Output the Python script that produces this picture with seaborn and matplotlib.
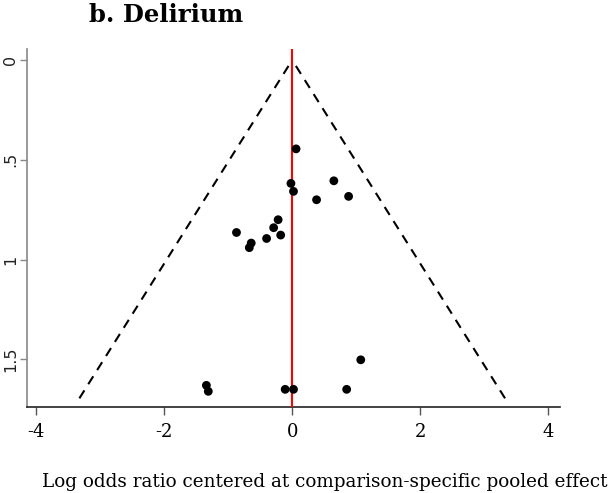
import numpy as np
import pandas as pd
import matplotlib
matplotlib.use("Agg")
import matplotlib.pyplot as plt
import seaborn as sns

# Funnel plot data (log odds ratio centered at pooled effect vs. standard error)
effect = [0.06, -0.02, 0.02, 0.65, 0.38, 0.88, -0.22, -0.29, -0.18, -0.40,
          -0.87, -0.64, -0.67, 1.07, -1.34, -1.31, -0.11, 0.02, 0.85]
std_err = [0.445, 0.618, 0.658, 0.605, 0.700, 0.683, 0.800, 0.840, 0.877, 0.894,
           0.864, 0.917, 0.940, 1.502, 1.630, 1.660, 1.650, 1.650, 1.650]
se_max = 1.695          # bottom of pseudo 95% confidence limits
x_ticks = [-4, -2, 0, 2, 4]
y_ticks = [0, 0.5, 1, 1.5]
y_tick_labels = ["0", ".5", "1", "1.5"]

df = pd.DataFrame({"effect": effect, "se": std_err})

sns.set_style("white", rc={"text.color": "black", "xtick.color": "black",
                           "ytick.color": "black"})
fig = plt.figure(figsize=(6.10, 4.93), dpi=100)
ax = fig.add_axes([27 / 610, 1 - 407.3 / 493, (560 - 27) / 610, (407.3 - 49.3) / 493])

# pseudo 95% CI funnel, each leg drawn from its bottom end up to the apex
for sign in (-1, 1):
    ax.plot([sign * 1.96 * se_max, 0], [se_max, 0],
            color="black", linestyle=(0, (4.5, 3.5)), linewidth=1.5, zorder=2)
ax.axvline(0, color="#ff0000", linewidth=1.5, zorder=3)

sns.scatterplot(data=df, x="effect", y="se", ax=ax, color="black", s=40,
                edgecolor="none", zorder=4, legend=False)

ax.set_xlim(-4.14, 4.18)
ax.set_ylim(1.74, -0.054)

ax.set_xticks(x_ticks)
ax.set_xticklabels([str(t) for t in x_ticks])
ax.set_yticks(y_ticks)
ax.set_yticklabels(y_tick_labels)

ax.tick_params(axis="x", bottom=True, direction="out", length=6, width=1, color="#555555",
               pad=5, labelsize=13, labelfontfamily="DejaVu Serif", labelcolor="black")
ax.tick_params(axis="y", left=True, direction="out", length=5, width=1, color="#888888",
               pad=1.5, labelsize=11.5, labelfontfamily="DejaVu Sans", labelcolor="#222222",
               labelrotation=90)
for lbl in ax.get_yticklabels():
    lbl.set_verticalalignment("center")

for side in ["top", "right"]:
    ax.spines[side].set_visible(False)
ax.spines["left"].set_color("#888888")
ax.spines["left"].set_linewidth(1.2)
ax.spines["bottom"].set_color("#222222")
ax.spines["bottom"].set_linewidth(1.2)

ax.set_xlabel("")
ax.set_ylabel("")
fig.text(325 / 610, 1 - 482 / 493, "Log odds ratio centered at comparison-specific pooled effect",
         ha="center", va="center", family="DejaVu Serif", fontsize=13.2, color="black")
fig.text(166 / 610, 1 - 15 / 493, "b. Delirium", ha="center", va="center",
         family="DejaVu Serif", fontweight="bold", fontsize=17.5, color="black")

fig.savefig("out.png", dpi=100)
